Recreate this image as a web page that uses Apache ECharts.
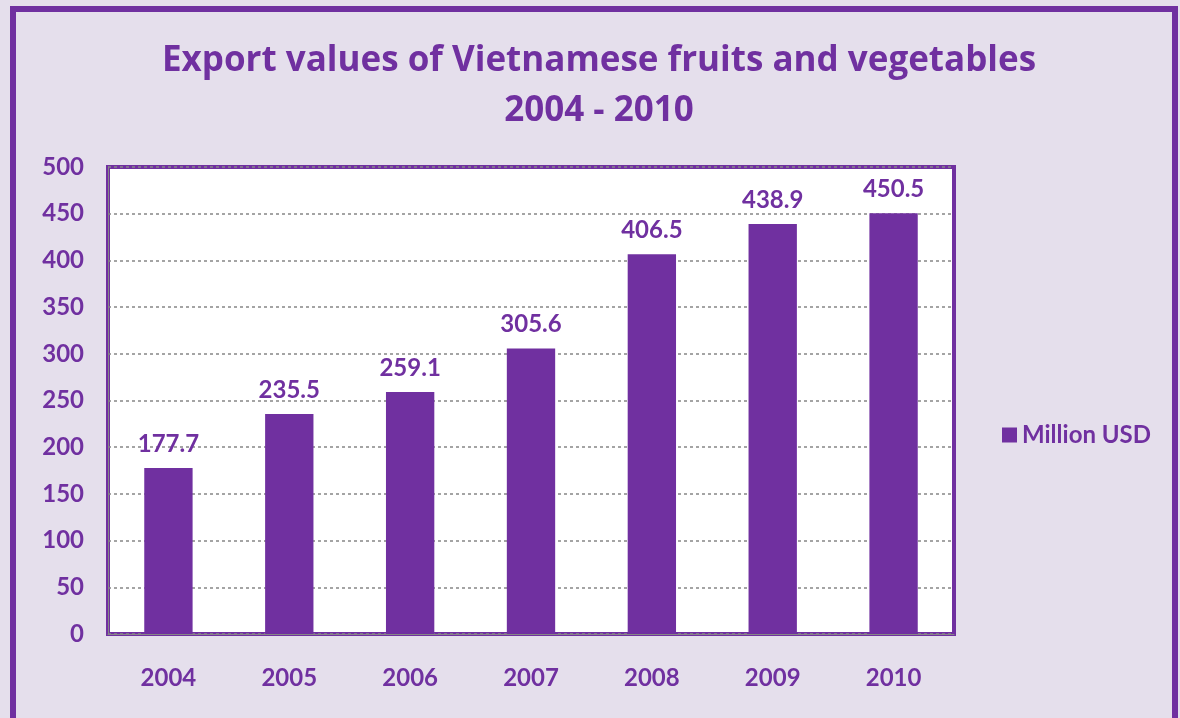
<!DOCTYPE html>
<html><head><meta charset="utf-8">
<script src="https://cdn.jsdelivr.net/npm/echarts@6/dist/echarts.min.js"></script>
<style>html,body{margin:0;padding:0;background:#E5DFEC}#c{width:1180px;height:718px}</style>
</head><body><div id="c"></div>
<script>
const categories = ['2004','2005','2006','2007','2008','2009','2010'];
const values = [177.7, 235.5, 259.1, 305.6, 406.5, 438.9, 450.5];
const seriesName = 'Million USD';
const titleText = 'Export values of Vietnamese fruits and vegetables\n2004 - 2010';

const purple = '#7030A0';
const font = 'Lato';
const chart = echarts.init(document.getElementById('c'));
chart.setOption({
  backgroundColor: '#E5DFEC',
  animation: false,
  graphic: [{
    type: 'rect', shape: {x: 13, y: 9, width: 1162, height: 730},
    style: {fill: 'none', stroke: purple, lineWidth: 6}, z: 100
  }],
  title: {
    text: titleText, left: 594, textAlign: 'center', top: 31,
    textStyle: {color: purple, fontFamily: 'Open Sans', fontWeight: 'bold', fontSize: 35, lineHeight: 50}
  },
  legend: {
    data: [seriesName], left: 997, top: 418, itemWidth: 15, itemHeight: 15, itemGap: 6,
    icon: 'rect',
    textStyle: {color: purple, fontFamily: font, fontWeight: 'bold', fontSize: 24}
  },
  grid: {
    left: 108, top: 167, right: 226, bottom: 84, show: true,
    backgroundColor: '#fff', borderColor: purple, borderWidth: 4
  },
  xAxis: {
    type: 'category', data: categories,
    axisLine: {show: true, lineStyle: {color: '#868686', width: 1}},
    axisTick: {show: false},
    axisLabel: {color: purple, fontFamily: font, fontWeight: 'bold', fontSize: 24, margin: 32}
  },
  yAxis: {
    type: 'value', min: 0, max: 500, interval: 50,
    axisLine: {show: true, lineStyle: {color: '#868686', width: 1}},
    axisTick: {show: false},
    axisLabel: {color: purple, fontFamily: font, fontWeight: 'bold', fontSize: 24, margin: 24},
    splitLine: {show: true, lineStyle: {color: '#868686', type: [3, 3], width: 1.5}}
  },
  series: [{
    name: seriesName, type: 'bar', data: values, barWidth: '40%',
    itemStyle: {color: purple},
    label: {show: true, position: 'top', distance: 12, color: purple, fontFamily: font, fontWeight: 'bold', fontSize: 24,
      formatter: p => p.value.toFixed(1)}
  }]
});
</script></body></html>
